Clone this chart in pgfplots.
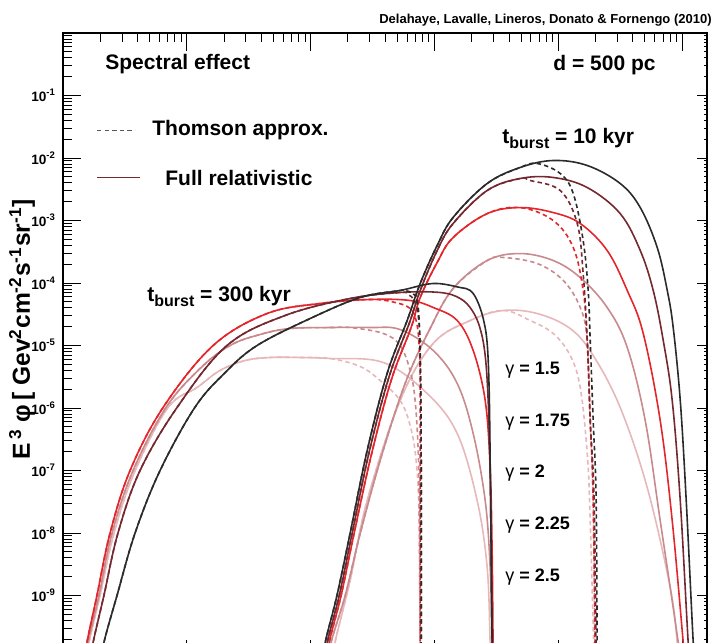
\documentclass[border=0pt]{standalone}
\usepackage{fontspec}
\setmainfont{Liberation Sans}
\usepackage{pgfplots}
\pgfplotsset{compat=1.18}
\usepackage{xcolor}
\definecolor{g15}{HTML}{2B2B2B}
\definecolor{g175}{HTML}{74282F}
\definecolor{g20}{HTML}{E3262B}
\definecolor{g225}{HTML}{C98A8E}
\definecolor{g25}{HTML}{E6B8BA}

\pgfplotsset{
  thomson/.style={line width=0.8pt,dash pattern=on 2.2pt off 1.6pt,smooth,tension=0.6},
  full/.style={line width=0.8pt,smooth,tension=0.6},
}

\begin{document}
\begin{tikzpicture}
\begin{axis}[
  scale only axis,width=322pt,height=312.5pt,
  xmode=log,ymode=log,
  xmin=1,xmax=1.585e5,ymin=1e-10,ymax=1,
  xtick={1,10,100,1000,10000,100000},xticklabels={},
  ytick={1e-10,1e-9,1e-8,1e-7,1e-6,1e-5,1e-4,1e-3,1e-2,1e-1,1},
  yticklabels={,10\textsuperscript{-9},10\textsuperscript{-8},10\textsuperscript{-7},10\textsuperscript{-6},10\textsuperscript{-5},10\textsuperscript{-4},10\textsuperscript{-3},10\textsuperscript{-2},10\textsuperscript{-1},},
  ytick pos=left,
  tick align=inside,
  major tick length=9pt,minor tick length=4.5pt,
  tick style={line width=0.5pt,black},
  axis line style={line width=0.8pt},
  y tick label style={font=\fontsize{6.8}{7}\selectfont\bfseries},
]
\coordinate (bl) at (rel axis cs:0,0);
\coordinate (tr) at (rel axis cs:1,1);

% gamma = 2.5
\addplot[g25,thomson] coordinates {(1.53,8e-11) (1.62,1.77e-10) (1.99,1e-9) (2.58,1e-8) (3.82,1e-7) (7.05,1.02e-6) (12.1,2.13e-6) (18.5,3.98e-6) (29.5,5.75e-6) (47,6.43e-6) (82.1,6.43e-6) (144,6.19e-6) (251,4.61e-6) (364,2.75e-6) (527,1.32e-6) (635,5.25e-7) (710,1.45e-7) (751,1.58e-8) (766,8e-11)};
\addplot[g25,full] coordinates {(1.53,8e-11) (1.62,1.77e-10) (1.99,1e-9) (2.58,1e-8) (3.82,1e-7) (7.05,1.02e-6) (12.1,2.13e-6) (18.5,3.98e-6) (29.5,5.75e-6) (47,6.43e-6) (82.1,6.43e-6) (144,6.19e-6) (385,5.35e-6) (871,1.71e-6) (1524,3.91e-7) (2208,3.31e-8) (2661,2.81e-9) (2812,1.77e-10) (2864,8e-11)};
\addplot[g25,thomson] coordinates {(149,8e-11) (157,1.77e-10) (208,1.74e-9) (286,3.31e-8) (527,1.32e-6) (975,1.08e-5) (1941,2.51e-5) (3581,3.63e-5) (5916,2.51e-5) (9078,1.56e-5) (12450,6.92e-6) (15010,2.13e-6) (17100,1.87e-7) (18070,1.58e-8) (19450,8e-11)};
\addplot[g25,full] coordinates {(149,8e-11) (157,1.77e-10) (208,1.74e-9) (286,3.31e-8) (527,1.32e-6) (975,1.08e-5) (1941,2.51e-5) (3581,3.63e-5) (6745,3.25e-5) (12450,1.87e-5) (19100,6.92e-6) (31550,1.02e-6) (52120,5.35e-8) (79980,1.34e-9) (91170,1.77e-10) (94620,8e-11)};

% gamma = 2.25
\addplot[g225,thomson] coordinates {(1.51,8e-11) (1.59,1.77e-10) (1.95,1e-9) (2.49,1e-8) (3.68,1e-7) (6.79,1.02e-6) (12.8,4.29e-6) (22.3,1e-5) (39,1.5e-5) (68.2,1.87e-5) (144,1.94e-5) (208,1.94e-5) (385,1.56e-5) (527,1e-5) (635,3.98e-6) (697,1.32e-6) (738,2.09e-7) (751,3.31e-8) (766,8e-11)};
\addplot[g225,full] coordinates {(1.51,8e-11) (1.59,1.77e-10) (1.95,1e-9) (2.49,1e-8) (3.68,1e-7) (6.79,1.02e-6) (12.8,4.29e-6) (22.3,1e-5) (39,1.5e-5) (68.2,1.87e-5) (144,1.94e-5) (302,1.94e-5) (527,1.8e-5) (975,8.32e-6) (1524,2.47e-6) (2051,3.91e-7) (2564,3.31e-8) (2812,2.81e-9) (2917,1.77e-10) (2972,8e-11)};
\addplot[g225,thomson] coordinates {(141,8e-11) (146,1.77e-10) (190,1e-9) (251,9.82e-9) (364,1.45e-7) (579,2.47e-6) (921,1.87e-5) (1413,8.17e-5) (2661,2.29e-4) (3581,2.56e-4) (6745,2.05e-4) (10940,1.1e-4) (15010,4.06e-5) (17100,1.2e-5) (18070,6.31e-7) (19100,3.31e-8) (19820,8e-11)};
\addplot[g225,full] coordinates {(141,8e-11) (146,1.77e-10) (190,1e-9) (251,9.82e-9) (364,1.45e-7) (579,2.47e-6) (921,1.87e-5) (1413,8.17e-5) (2661,2.29e-4) (4912,2.96e-4) (9078,2.29e-4) (15010,1.22e-4) (24770,4.06e-5) (35970,9.29e-6) (50230,6.31e-7) (66400,1.58e-8) (92870,1.77e-10) (96380,8e-11)};

% gamma = 2
\addplot[g20,thomson] coordinates {(1.48,8e-11) (1.56,1.77e-10) (1.88,1e-9) (2.40,1e-8) (3.48,1e-7) (6.43,1.02e-6) (16.3,1e-5) (44.5,3.25e-5) (119,4.7e-5) (302,5.45e-5) (481,4.88e-5) (635,3.91e-5) (710,2.51e-5) (751,1e-5) (766,1.32e-6) (766,8e-11)};
\addplot[g20,full] coordinates {(1.48,8e-11) (1.56,1.77e-10) (1.88,1e-9) (2.40,1e-8) (3.48,1e-7) (6.43,1.02e-6) (16.3,1e-5) (44.5,3.25e-5) (119,4.7e-5) (302,5.45e-5) (635,5.25e-5) (975,4.06e-5) (1524,2.51e-5) (2051,8.32e-6) (2564,1.32e-6) (2812,1.12e-7) (2917,5.25e-9) (2972,1.77e-10) (3027,8e-11)};
\addplot[g20,thomson] coordinates {(136,8e-11) (141,1.77e-10) (176,1e-9) (224,9.82e-9) (308,1.74e-7) (446,2.75e-6) (647,1.94e-5) (766,5.86e-5) (1050,2.13e-4) (1413,5.35e-4) (2661,1.29e-3) (4912,1.61e-3) (9078,1e-3) (13180,3.7e-4) (15850,7.59e-5) (17100,1.2e-5) (18070,6.31e-7) (19100,3.31e-8) (19820,8e-11)};
\addplot[g20,full] coordinates {(136,8e-11) (141,1.77e-10) (176,1e-9) (224,9.82e-9) (308,1.74e-7) (446,2.75e-6) (647,1.94e-5) (766,5.86e-5) (1050,2.13e-4) (1413,5.35e-4) (2661,1.29e-3) (4912,1.61e-3) (9078,1.34e-3) (15010,8.95e-4) (24770,3.31e-4) (35970,7.59e-5) (48420,1.56e-5) (66400,6.31e-7) (82990,1.58e-8) (101900,1.77e-10) (105800,8e-11)};

% gamma = 1.75
\addplot[g175,thomson] coordinates {(1.65,8e-11) (1.75,1.77e-10) (2.14,1e-9) (2.78,1e-8) (4.19,1e-7) (8.34,1.02e-6) (21.1,1e-5) (62.1,3.02e-5) (208,5.65e-5) (527,7.05e-5) (612,6.55e-5) (684,5.25e-5) (738,3.02e-5) (766,8.32e-6) (780,2.09e-7) (780,8e-11)};
\addplot[g175,full] coordinates {(1.65,8e-11) (1.75,1.77e-10) (2.14,1e-9) (2.78,1e-8) (4.19,1e-7) (8.34,1.02e-6) (21.1,1e-5) (62.1,3.02e-5) (208,5.65e-5) (527,7.05e-5) (1109,7.05e-5) (1611,5.65e-5) (2014,3.63e-5) (2334,1.87e-5) (2564,6.92e-6) (2710,1.32e-6) (2812,1e-7) (2864,5.25e-9) (2917,1.77e-10) (2972,8e-11)};
\addplot[g175,thomson] coordinates {(131,8e-11) (136,1.77e-10) (170,1e-9) (216,9.82e-9) (296,1.94e-7) (430,3.19e-6) (624,2.25e-5) (766,7.59e-5) (1050,3.31e-4) (1413,8.95e-4) (2661,3.02e-3) (4912,4.7e-3) (5916,4.37e-3) (10350,3.02e-3) (14200,8.95e-4) (15850,1.42e-4) (17100,1.2e-5) (18070,6.31e-7) (19450,3.31e-8) (20190,8e-11)};
\addplot[g175,full] coordinates {(131,8e-11) (136,1.77e-10) (170,1e-9) (216,9.82e-9) (296,1.94e-7) (430,3.19e-6) (624,2.25e-5) (766,7.59e-5) (1050,3.31e-4) (1413,8.95e-4) (2661,3.02e-3) (4912,4.7e-3) (9078,4.88e-3) (17100,3.37e-3) (31550,1.29e-3) (45810,3.31e-4) (58320,7.59e-5) (70270,1.2e-5) (82990,1.32e-6) (96380,3.31e-8) (111700,1.77e-10) (116100,8e-11)};

% gamma = 1.5
\addplot[g15,thomson] coordinates {(2.03,8e-11) (2.14,1.77e-10) (2.73,1e-9) (3.82,1e-8) (6.08,1e-7) (11.6,1.02e-6) (20.4,3.7e-6) (36.9,1e-5) (98.9,2.7e-5) (251,5.86e-5) (527,7.59e-5) (579,7.59e-5) (671,6.79e-5) (723,5.25e-5) (751,2.51e-5) (766,5.75e-6) (780,2.09e-7) (780,8e-11)};
\addplot[g15,full] coordinates {(2.03,8e-11) (2.14,1.77e-10) (2.73,1e-9) (3.82,1e-8) (6.08,1e-7) (11.6,1.02e-6) (20.4,3.7e-6) (36.9,1e-5) (98.9,2.7e-5) (251,5.86e-5) (527,7.59e-5) (975,9.82e-5) (1611,8.47e-5) (1941,7.59e-5) (2208,5.25e-5) (2472,2.7e-5) (2661,1.08e-5) (2761,1.91e-6) (2812,1.45e-7) (2864,5.25e-9) (2917,1.77e-10) (2972,8e-11)};
\addplot[g15,thomson] coordinates {(126,8e-11) (131,1.77e-10) (163,1e-9) (208,9.82e-9) (286,2.09e-7) (414,3.56e-6) (601,2.51e-5) (766,9.82e-5) (1050,3.98e-4) (1413,1.12e-3) (2661,3.91e-3) (4912,7.05e-3) (6745,8.17e-3) (10350,5.65e-3) (13180,2.7e-3) (15850,4.79e-4) (17400,7.59e-5) (18070,1.2e-5) (19100,6.31e-7) (20190,3.31e-8) (20560,8e-11)};
\addplot[g15,full] coordinates {(126,8e-11) (131,1.77e-10) (163,1e-9) (208,9.82e-9) (286,2.09e-7) (414,3.56e-6) (601,2.51e-5) (766,9.82e-5) (1050,3.98e-4) (1413,1.12e-3) (2661,3.91e-3) (4912,7.05e-3) (9078,9.12e-3) (17100,7.59e-3) (31550,3.91e-3) (45810,1.61e-3) (62800,3.7e-4) (75700,7.59e-5) (84530,1.94e-5) (96380,1.32e-6) (107700,3.31e-8) (122700,1.77e-10) (127400,8e-11)};
\end{axis}

% right-hand ticks, shorter
\begin{axis}[
  scale only axis,width=322pt,height=312.5pt,
  xmode=log,ymode=log,
  xmin=1,xmax=1.585e5,ymin=1e-10,ymax=1,
  xtick=\empty,
  ytick={1e-10,1e-9,1e-8,1e-7,1e-6,1e-5,1e-4,1e-3,1e-2,1e-1,1},
  yticklabels={},
  ytick pos=right,
  tick align=inside,
  major tick length=5pt,minor tick length=1.5pt,
  tick style={line width=0.5pt,black},
  axis line style={line width=0.8pt},
]
\end{axis}

\tikzset{lbl/.style={anchor=west,inner sep=0pt,font=\fontsize{10.5}{12}\selectfont\bfseries}}
\node[lbl] at ([xshift=21pt,yshift=296.75pt]bl) {Spectral effect};
\node[lbl] at ([xshift=245pt,yshift=296.25pt]bl) {d = 500 pc};
\node[anchor=east,font=\fontsize{6.5}{7}\selectfont\bfseries,inner sep=0pt] at ([xshift=324.5pt,yshift=318.75pt]bl) {Delahaye, Lavalle, Lineros, Donato \& Fornengo (2010)};

\draw[line width=0.8pt,black!65,dash pattern=on 2.2pt off 1.6pt] ([xshift=17pt,yshift=263.75pt]bl) -- ++(19pt,0);
\node[lbl] at ([xshift=44.5pt,yshift=263.75pt]bl) {Thomson approx.};
\draw[line width=0.8pt,g175] ([xshift=17pt,yshift=240.25pt]bl) -- ++(21.5pt,0);
\node[lbl] at ([xshift=51pt,yshift=240.25pt]bl) {Full relativistic};

\node[lbl,anchor=base west] at ([xshift=42pt,yshift=178.25pt]bl) {t\raisebox{-0.45ex}{\fontsize{8}{8}\selectfont burst} = 300 kyr};
\node[lbl,anchor=base west] at ([xshift=219.5pt,yshift=257.25pt]bl) {t\raisebox{-0.45ex}{\fontsize{8}{8}\selectfont burst} = 10 kyr};

\foreach \g/\yy in {1.5/143.75,1.75/117.75,2/92.25,2.25/66.25,2.5/40.25}{
  \node[anchor=west,font=\fontsize{9}{10}\selectfont,inner sep=0pt] at ([xshift=221pt,yshift=\yy pt]bl) {γ \textbf{= \g}};
}

\node[rotate=90,font=\fontsize{12.3}{13}\selectfont\bfseries] at ([xshift=-20.5pt,yshift=164.5pt]bl)
  {E\textsuperscript{\,3}\;φ\,[ Gev\textsuperscript{2}cm\textsuperscript{-2}s\textsuperscript{-1}sr\textsuperscript{-1}]};

\pgfresetboundingbox
\path[use as bounding box] ([xshift=-31.5pt,yshift=7.75pt]bl) rectangle ([xshift=2pt,yshift=16.5pt]tr);
\end{tikzpicture}
\end{document}
